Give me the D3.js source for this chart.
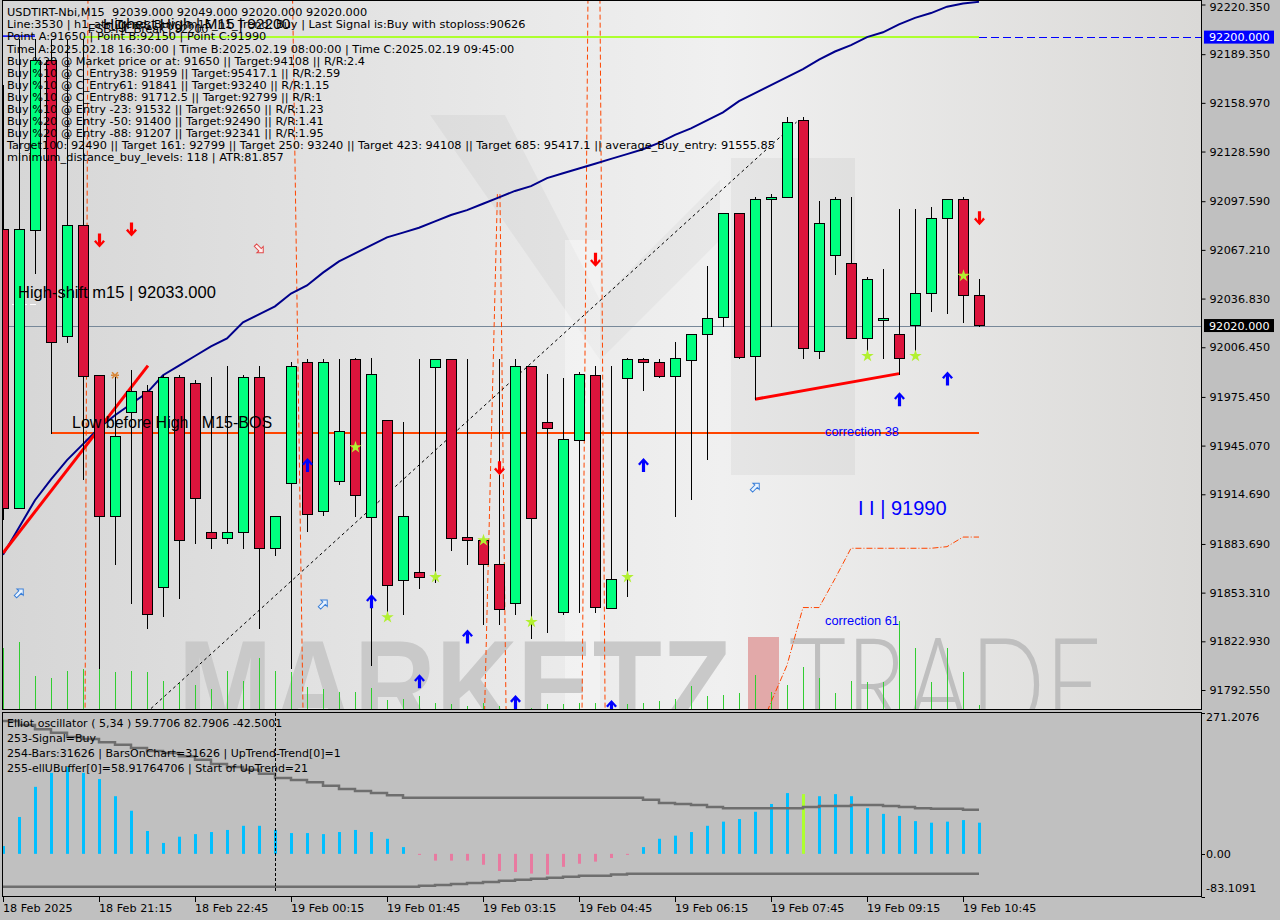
<!DOCTYPE html>
<html><head><meta charset="utf-8">
<script src="https://cdn.jsdelivr.net/npm/d3@7/dist/d3.min.js"></script>
<style>
body{margin:0;background:#c0c0c0;}
svg{display:block;font-family:"Liberation Sans",Arial,sans-serif;}
text{white-space:pre;}
.sm{font-family:"DejaVu Sans",Verdana,sans-serif;}
</style>
</head><body>
<svg id="c" width="1280" height="920"></svg>
<script>
// ---------------- DATA ----------------
const open  = [92080,91906,92080,92186,92014,92083,91989,91901,91966,91979,91857,91988,91984,91891,91887,91891,91988,91881,91922,91997,91904,91923,91999,91901,91961,91861,91866,91994,91999,91888,91886,91871,91847,91995,91960,91841,91949,91989,91844,91987,91999,91997,91989,91999,92015,92025,92090,92001,92099,92100,92148,92004,92064,92059,92012,92024,92015,92020,92040,92087,92099,92039];
const high  = [92170,92199,92199,92199,92199,92199,91989,91988,91992,91983,91989,91989,91986,91988,91995,91989,91995,91901,91997,91999,91999,91999,92000,92000,91961,91960,91999,91999,91999,91999,91886,91999,91999,91995,91990,91987,91991,91995,91995,92000,92000,91999,92010,92015,92057,92090,92090,92100,92102,92150,92150,92098,92100,92100,92050,92055,92093,92093,92094,92099,92100,92049];
const low   = [91899,91906,92053,91953,92010,91924,91806,91871,91847,91831,91839,91850,91884,91881,91884,91881,91831,91877,91806,91892,91902,91921,91901,91808,91841,91840,91856,91860,91880,91871,91834,91834,91840,91825,91829,91840,91841,91841,91844,91851,91980,91988,91901,91912,91937,92020,92000,91974,92020,92100,92000,92000,92052,92012,92003,92000,91990,92003,92029,92028,92022,92020];
const close = [91906,92080,92186,92010,92083,91989,91901,91951,91979,91840,91988,91886,91912,91887,91891,91988,91881,91901,91995,91902,91997,91954,91914,91990,91858,91901,91863,91999,91887,91886,91871,91843,91995,91900,91956,91949,91990,91844,91862,91999,91997,91988,92000,92015,92025,92090,92000,92099,92100,92147,92006,92084,92099,92012,92049,92025,92000,92040,92087,92099,92039,92020];
const volume = [61,67,33,31,38,40,40,37,38,37,28,26,24,20,38,28,51,38,37,22,20,17,17,21,9,10,13,6,5,3,6,3,7,1,5,5,6,6,2,5,6,8,10,23,13,14,16,34,17,24,42,31,16,28,27,27,88,61,27,61,37,4];
const maLine = [91877,91894,91911,91924,91936,91946,91956,91964,91971,91978,91989,91995,92001,92007,92012,92022,92027,92032,92040,92045,92053,92060,92065,92070,92075,92078,92081,92085,92089,92092,92096,92100,92104,92107,92112,92115,92118,92121,92124,92127,92130,92134,92139,92143,92148,92153,92160,92165,92170,92175,92180,92186,92191,92195,92200,92203,92208,92212,92215,92219,92221,92222];
const oscHist = [15,71,129,156,167,156,144,111,83,44,21,33,38,42,46,54,54,46,40,40,38,42,46,42,29,13,-2,-13,-13,-13,-21,-33,-35,-38,-40,-25,-19,-15,-8,-2,13,29,35,42,54,62,67,81,96,117,115,111,115,111,88,77,73,63,60,62,65,60];
const oscUpper = [256,248,240,233,225,221,215,210,204,198,194,188,181,173,167,162,154,146,142,138,131,125,121,117,113,108,108,108,108,108,108,108,108,108,108,108,108,108,108,108,104,98,96,94,90,88,88,88,88,88,90,92,92,94,94,92,90,88,87,87,85,85];
const oscLower = [-63.5,-63.5,-63.5,-63.5,-63.5,-63.5,-63.5,-63.5,-63.5,-63.5,-63.5,-63.5,-63.5,-63.5,-63.5,-63.5,-63.5,-63.5,-63.5,-63.5,-63.5,-63.5,-63.5,-63.5,-63.5,-63.5,-61.5,-60,-58,-56,-54,-52,-50,-48,-46,-44,-42,-42,-40,-38.5,-38.5,-38.5,-38.5,-38.5,-38.5,-38.5,-38.5,-38.5,-38.5,-38.5,-38.5,-38.5,-38.5,-38.5,-38.5,-38.5,-38.5,-38.5,-38.5,-38.5,-38.5,-38.5];
const oscSignalBar = 50;
const correctionBars = [47,48,49,50,51,52,53,54,55,56,57,58,59,60,61];
const correctionVals = [91760,91785,91808,91844,91844,91862,91881,91881,91881,91881,91881,91881,91882,91888,91888];
const upArrows = [[19,91933],[23,91848],[26,91798],[29,91826],[32,91785],[38,91782],[40,91933],[56,91974],[59,91987]];
const downArrows = [[6,92073],[8,92080],[31,91931],[37,92061],[61,92087]];
const hollowUp = [[1,91853],[20,91846],[47,91919]];
const hollowDown = [[16,92068]];
const stars = [[22,91944],[24,91838],[27,91863],[30,91886],[33,91835],[39,91863],[54,92001],[57,92001],[60,92051]];
const crossMarks = [[7,91989]];
// vertical cycle lines: [barTop, priceTop, barBottom, priceBottom]
const cycleLines = [[5.31,92224,5.13,91780],[18.1,92224,18.75,91780],[30.9,92102,30.1,91780],[31.06,92102,31.44,91780],[36.56,92224,36.19,91780],[37.31,92224,37.63,91780]];
const diagLine = [[9.25,91781],[49.6,92147]];
const trendLeft = [[0,91878],[9.06,91995]];
const trendRight = [[47,91974],[56,91990]];
const bosLevel = 91953, bosFrom = 3;
const highestHigh = 92200, currentPrice = 92020;
const priceTicks = [92220.35,92189.35,92158.97,92128.59,92097.59,92067.21,92036.83,92006.45,91975.45,91945.07,91914.69,91883.69,91853.31,91822.93,91792.55];
const timeTickBars = [0,6,12,18,24,30,36,42,48,54,60];
const timeTickLabels = ["18 Feb 2025","18 Feb 21:15","18 Feb 22:45","19 Feb 00:15","19 Feb 01:45","19 Feb 03:15","19 Feb 04:45","19 Feb 06:15","19 Feb 07:45","19 Feb 09:15","19 Feb 10:45"];
const oscTicks = [271.2076, 0, -83.1091];
const oscTickLabels = ["271.2076","0.00","-83.1091"];
const headerLines = [
 "USDTIRT-Nbi,M15  92039.000 92049.000 92020.000 92020.000",
 "Line:3530 | h1_atr_Trend: Buy | m15_h1_Trend: Buy | Last Signal is:Buy with stoploss:90626",
 "Point A:91650 | Point B:92150 | Point C:91990",
 "Time A:2025.02.18 16:30:00 | Time B:2025.02.19 08:00:00 | Time C:2025.02.19 09:45:00",
 "Buy %20 @ Market price or at: 91650 || Target:94108 || R/R:2.4",
 "Buy %10 @ C_Entry38: 91959 || Target:95417.1 || R/R:2.59",
 "Buy %10 @ C_Entry61: 91841 || Target:93240 || R/R:1.15",
 "Buy %10 @ C_Entry88: 91712.5 || Target:92799 || R/R:1",
 "Buy %10 @ Entry -23: 91532 || Target:92650 || R/R:1.23",
 "Buy %20 @ Entry -50: 91400 || Target:92490 || R/R:1.41",
 "Buy %20 @ Entry -88: 91207 || Target:92341 || R/R:1.95",
 "Target100: 92490 || Target 161: 92799 || Target 250: 93240 || Target 423: 94108 || Target 685: 95417.1 || average_Buy_entry: 91555.85",
 "minimum_distance_buy_levels: 118 | ATR:81.857"
];
const oscLines = [
 "Elliot oscillator ( 5,34 ) 59.7706 82.7906 -42.5001",
 "253-Signal=Buy",
 "254-Bars:31626 | BarsOnChart=31626 | UpTrend-Trend[0]=1",
 "255-ellUBuffer[0]=58.91764706 | Start of UpTrend=21"
];

// ---------------- SCALES ----------------
const x = d3.scaleLinear().domain([0,61]).range([3,979]);
const y = d3.scaleLinear().domain([91792.55,92220.35]).range([690,4.5]);
const yv = d3.scaleLinear().domain([0,100]).range([709,609]);
const yo = d3.scaleLinear().domain([-83.1091,271.2076]).range([897,713]);
const idx = d3.range(open.length);
const cr = v => Math.round(v)+0.5;

const svg = d3.select("#c");
const defs = svg.append("defs");
const g1 = defs.append("linearGradient").attr("id","bg").attr("x1",0).attr("x2",1).attr("y1",0).attr("y2",0);
g1.append("stop").attr("offset",0).attr("stop-color","#d6d6d6");
g1.append("stop").attr("offset",0.6).attr("stop-color","#f0f0f0");
g1.append("stop").attr("offset",1).attr("stop-color","#dad9d7");
defs.append("clipPath").attr("id","mc").append("rect").attr("x",3).attr("y",1).attr("width",1198).attr("height",708);
defs.append("clipPath").attr("id","oc").append("rect").attr("x",3).attr("y",713).attr("width",1198).attr("height",183);

svg.append("rect").attr("width",1280).attr("height",920).attr("fill","#c0c0c0");
svg.append("rect").attr("x",3).attr("y",0).attr("width",1198).attr("height",709).attr("fill","url(#bg)");

const main = svg.append("g").attr("clip-path","url(#mc)");

// watermark
const wm = main.append("g");
wm.append("polygon").attr("points","430,115 505,115 600,300 600,360").attr("fill","#000").attr("opacity",0.035);
wm.append("polygon").attr("points","600,300 720,180 720,240 600,360").attr("fill","#000").attr("opacity",0.03);
wm.append("rect").attr("x",731).attr("y",158).attr("width",124).attr("height",317).attr("fill","#000").attr("opacity",0.04);
wm.append("rect").attr("x",565).attr("y",240).attr("width",35).attr("height",470).attr("fill","#fff").attr("opacity",0.35);
wm.append("text").attr("x",178).attr("y",731).attr("font-size",130).attr("font-weight","bold")
  .attr("textLength",553).attr("lengthAdjust","spacingAndGlyphs").attr("fill","#c9c9c9").text("MARKETZ");
wm.append("rect").attr("x",748).attr("y",637).attr("width",31).attr("height",80).attr("fill","#e2a9a9");
wm.append("text").attr("x",789).attr("y",731).attr("font-size",130).attr("font-family","Lato, 'Open Sans', sans-serif").attr("font-weight",300)
  .attr("textLength",313).attr("lengthAdjust","spacingAndGlyphs").attr("fill","#bfbfbf").text("TRADE");

// volume
main.append("g").selectAll("line").data(idx).join("line")
  .attr("x1",i=>x(i)+0.5).attr("x2",i=>x(i)+0.5).attr("y1",yv(0)).attr("y2",i=>yv(volume[i]))
  .attr("stroke","#32cd32").attr("stroke-width",1);

// horizontal lines
main.append("line").attr("x1",3).attr("x2",1201).attr("y1",cr(y(currentPrice))).attr("y2",cr(y(currentPrice)))
  .attr("stroke","#778899").attr("stroke-width",1);
main.append("line").attr("x1",x(bosFrom)).attr("x2",x(61)).attr("y1",y(bosLevel)).attr("y2",y(bosLevel))
  .attr("stroke","#ff4500").attr("stroke-width",2);
main.append("line").attr("x1",x(5)).attr("x2",x(61)).attr("y1",y(highestHigh)).attr("y2",y(highestHigh))
  .attr("stroke","#adff2f").attr("stroke-width",2);
main.append("line").attr("x1",x(0)).attr("x2",x(2)).attr("y1",y(highestHigh)-1).attr("y2",y(highestHigh)-1)
  .attr("stroke","#0000ff").attr("stroke-width",1.5);
main.append("line").attr("x1",x(61)).attr("x2",1201).attr("y1",cr(y(highestHigh))).attr("y2",cr(y(highestHigh)))
  .attr("stroke","#0000ff").attr("stroke-width",1).attr("stroke-dasharray","8,4");
main.append("line").attr("x1",3).attr("x2",36).attr("y1",304.5).attr("y2",304.5)
  .attr("stroke","#fff").attr("stroke-width",1).attr("stroke-dasharray","6,3");

// vertical cycle lines
main.append("g").selectAll("line").data(cycleLines).join("line")
  .attr("x1",d=>x(d[0])).attr("y1",d=>y(d[1])).attr("x2",d=>x(d[2])).attr("y2",d=>y(d[3]))
  .attr("stroke","#ff4500").attr("stroke-width",1).attr("stroke-dasharray","5,3");

// diagonal dotted
main.append("line").attr("x1",x(diagLine[0][0])).attr("y1",y(diagLine[0][1])).attr("x2",x(diagLine[1][0])).attr("y2",y(diagLine[1][1]))
  .attr("stroke","#000").attr("stroke-width",1).attr("stroke-dasharray","3,3");

// MA
main.append("path").datum(idx).attr("fill","none").attr("stroke","#00008b").attr("stroke-width",2)
  .attr("d",d3.line().x(i=>x(i)).y(i=>y(maLine[i])));

// red trend lines
[trendLeft,trendRight].forEach(t=>{
  main.append("line").attr("x1",x(t[0][0])).attr("y1",y(t[0][1])).attr("x2",x(t[1][0])).attr("y2",y(t[1][1]))
   .attr("stroke","#ff0000").attr("stroke-width",3);
});

// candles
const cg = main.append("g");
cg.selectAll("line").data(idx).join("line")
  .attr("x1",i=>x(i)+0.5).attr("x2",i=>x(i)+0.5).attr("y1",i=>Math.round(y(high[i]))).attr("y2",i=>Math.round(y(low[i]))+1)
  .attr("stroke","#000").attr("stroke-width",1);
cg.selectAll("rect").data(idx).join("rect")
  .attr("x",i=>x(i)-4.5).attr("width",10)
  .attr("y",i=>cr(y(Math.max(open[i],close[i]))))
  .attr("height",i=>Math.max(2,Math.round(Math.abs(y(open[i])-y(close[i])))))
  .attr("fill",i=>close[i]>=open[i]?"#00ff7f":"#dc143c")
  .attr("stroke","#000").attr("stroke-width",1);

// correction line
main.append("path").datum(correctionBars.map((b,k)=>[b,correctionVals[k]])).attr("fill","none")
  .attr("stroke","#ff4500").attr("stroke-width",1).attr("stroke-dasharray","6,2,1,2")
  .attr("d",d3.line().x(d=>x(d[0])).y(d=>y(d[1])));

// markers
const arrowPath = "M0,-7 L5.5,-1 L3.6,0.6 L1.6,-2.2 L1.6,7 L-1.6,7 L-1.6,-2.2 L-3.6,0.6 L-5.5,-1 Z";
main.append("g").selectAll("path").data(upArrows).join("path")
  .attr("d",arrowPath).attr("transform",d=>`translate(${x(d[0])+0.5},${y(d[1])})`).attr("fill","#0000ff");
main.append("g").selectAll("path").data(downArrows).join("path")
  .attr("d",arrowPath).attr("transform",d=>`translate(${x(d[0])+0.5},${y(d[1])}) scale(1,-1)`).attr("fill","#ff0000");
const hollowPath = "M0,-6 L4.5,-1.5 L1.7,-1.5 L1.7,5 L-1.7,5 L-1.7,-1.5 L-4.5,-1.5 Z";
main.append("g").selectAll("path").data(hollowUp).join("path")
  .attr("d",hollowPath).attr("transform",d=>`translate(${x(d[0])},${y(d[1])}) rotate(45)`)
  .attr("fill","#eaf4ff").attr("stroke","#3a7fd8").attr("stroke-width",1);
main.append("g").selectAll("path").data(hollowDown).join("path")
  .attr("d",hollowPath).attr("transform",d=>`translate(${x(d[0])},${y(d[1])}) rotate(135)`)
  .attr("fill","#fff0f0").attr("stroke","#e04848").attr("stroke-width",1);
main.append("g").selectAll("path").data(stars).join("path")
  .attr("d",d3.symbol(d3.symbolStar,48)).attr("transform",d=>`translate(${x(d[0])+0.5},${y(d[1])})`)
  .attr("fill","#b2f030");
main.append("g").selectAll("path").data(crossMarks).join("path")
  .attr("d","M-3,-3 L3,3 M3,-3 L-3,3 M-4,0 L4,0").attr("transform",d=>`translate(${x(d[0])},${y(d[1])})`)
  .attr("stroke","#d8883a").attr("stroke-width",1.5).attr("fill","none");

// chart texts
main.append("text").attr("x",18).attr("y",298).attr("font-size",16.5).attr("fill","#000").text("High-shift m15 | 92033.000");
main.append("text").attr("x",72).attr("y",428).attr("font-size",16).attr("fill","#000").text("Low before High   M15-BOS");
main.append("text").attr("x",825).attr("y",435.5).attr("font-size",12.8).attr("fill","#0000ff").text("correction 38");
main.append("text").attr("x",825).attr("y",625).attr("font-size",12.8).attr("fill","#0000ff").text("correction 61");
main.append("text").attr("x",858).attr("y",515).attr("font-size",20).attr("fill","#0000ff").text("I I | 91990");

// header
const hg = main.append("g").attr("class","sm").attr("font-size",11.3).attr("fill","#000");
hg.selectAll("text").data(headerLines).join("text").attr("x",7).attr("y",(d,k)=>16.3+12.08*k).text(d=>d);
main.append("text").attr("x",103).attr("y",28.5).attr("font-size",15.5).attr("fill","#000").text("Highest High | M15 | 92200");
main.append("text").attr("x",88).attr("y",33).attr("font-size",12).attr("fill","#000").text("FSB-HL Break | 92200");

// borders main
svg.append("line").attr("x1",1201.5).attr("x2",1201.5).attr("y1",0).attr("y2",709).attr("stroke","#000");
svg.append("line").attr("x1",2.5).attr("x2",2.5).attr("y1",0).attr("y2",709).attr("stroke","#000");
svg.append("line").attr("x1",2).attr("x2",1202).attr("y1",0.5).attr("y2",0.5).attr("stroke","#000");
svg.append("line").attr("x1",2).attr("x2",1202).attr("y1",709.5).attr("y2",709.5).attr("stroke","#000");

// price axis
const ax = svg.append("g").attr("transform","translate(1201.5,0)")
  .call(d3.axisRight(y).tickValues(priceTicks).tickFormat(d3.format(".3f")).tickSize(4).tickPadding(4));
ax.select(".domain").remove();
ax.selectAll("text").attr("class","sm").attr("font-size",11.2).attr("font-family",null).attr("fill","#000");
ax.selectAll("text").filter(d=>d===priceTicks[0]).attr("dy","0.55em");
ax.selectAll("line").attr("stroke","#000");
function tag(v,bg){
  const yy = y(v);
  svg.append("rect").attr("x",1204).attr("y",yy-6.5).attr("width",70).attr("height",13).attr("fill",bg);
  svg.append("text").attr("class","sm").attr("x",1209).attr("y",yy+4).attr("font-size",11.2).attr("fill","#fff").text(d3.format(".3f")(v));
}
tag(highestHigh,"#0000ff");
tag(currentPrice,"#000");

// ---------------- OSCILLATOR ----------------
const osc = svg.append("g").attr("clip-path","url(#oc)");
osc.append("g").selectAll("rect").data(idx).join("rect")
  .attr("x",i=>x(i)-1).attr("width",3)
  .attr("y",i=>Math.min(yo(0),yo(oscHist[i]))).attr("height",i=>Math.abs(yo(oscHist[i])-yo(0)))
  .attr("fill",i=>i===oscSignalBar?"#adff2f":(oscHist[i]>=0?"#00bfff":"#e87aa0"));
osc.append("path").datum(idx).attr("fill","none").attr("stroke","#6e6e6e").attr("stroke-width",2.5)
  .attr("d",d3.line().x(i=>x(i)).y(i=>yo(oscUpper[i])).curve(d3.curveStepAfter));
osc.append("path").datum(idx).attr("fill","none").attr("stroke","#6e6e6e").attr("stroke-width",2.5)
  .attr("d",d3.line().x(i=>x(i)).y(i=>yo(oscLower[i])).curve(d3.curveStepAfter));
osc.selectAll("text.o").data(oscLines).join("text").attr("class","o sm").attr("x",7).attr("y",(d,k)=>727+15*k)
  .attr("font-size",11).attr("fill","#000").text(d=>d);
svg.append("line").attr("x1",275.5).attr("x2",275.5).attr("y1",713).attr("y2",893).attr("stroke","#000").attr("stroke-dasharray","3,2");
svg.append("rect").attr("x",2.5).attr("y",712.5).attr("width",1199).attr("height",184).attr("fill","none").attr("stroke","#000");
const oy = [yo(oscTicks[0])+8, yo(oscTicks[1])+4, yo(oscTicks[2])-5];
oscTicks.forEach((t,k)=>{
  svg.append("line").attr("x1",1201.5).attr("x2",1205).attr("y1",cr(yo(t))).attr("y2",cr(yo(t))).attr("stroke","#000");
  svg.append("text").attr("class","sm").attr("x",1206).attr("y",oy[k]).attr("font-size",11.2).attr("fill","#000").text(oscTickLabels[k]);
});

// time axis
const tg = svg.append("g");
tg.selectAll("line").data(timeTickBars).join("line").attr("x1",i=>x(i)+0.5).attr("x2",i=>x(i)+0.5)
  .attr("y1",897).attr("y2",902).attr("stroke","#000");
tg.selectAll("text").data(timeTickBars).join("text").attr("class","sm").attr("x",i=>x(i)).attr("y",912)
  .attr("font-size",11.2).attr("fill","#000").text((d,k)=>timeTickLabels[k]);
</script>
</body></html>
